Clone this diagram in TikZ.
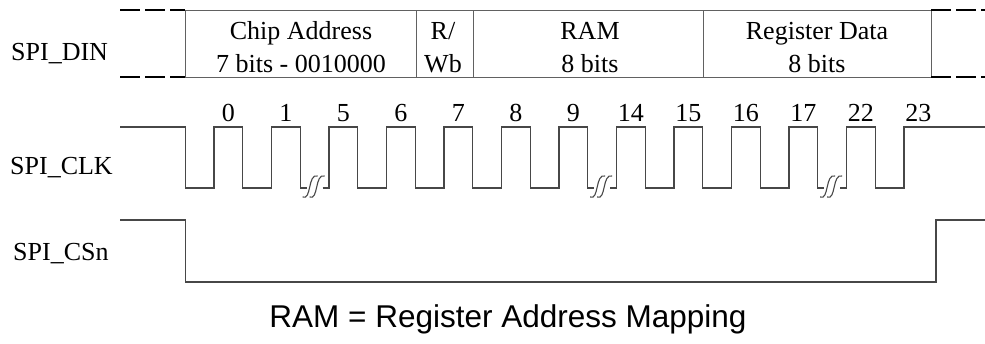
\documentclass[tikz,border=0pt]{standalone}
\usepackage{fontspec}
\setmainfont{Liberation Serif}
\newfontfamily\arialfont{Liberation Sans}
\begin{document}
\begin{tikzpicture}[x=1pt,y=-1pt,
  sig/.style={draw=black!72, line width=1.1pt},
  cell/.style={draw=black!62, line width=1pt, inner sep=0pt, outer sep=0pt},
  dashline/.style={draw=black, line width=2.8pt, dash pattern=on 20pt off 5pt},
  lbl/.style={font=\fontsize{26}{31}\selectfont, inner sep=0pt, anchor=base},
  sidelbl/.style={font=\fontsize{26}{31}\selectfont, inner sep=0pt, anchor=base west}]
\useasboundingbox (0,0) rectangle (985,343);

% signal names
\node[sidelbl] (din) at (11,60) {SPI\_DIN};
\node[sidelbl] (clk) at (10,174) {SPI\_CLK};
\node[sidelbl] (csn) at (13,260) {SPI\_CSn};

% SPI_DIN frame
\node[cell, minimum width=231pt, minimum height=67pt] (chipcell) at (300.5,43.5) {};
\node[cell, minimum width=57pt, minimum height=67pt] (rwcell) at (444.5,43.5) {};
\node[cell, minimum width=230pt, minimum height=67pt] (ramcell) at (588,43.5) {};
\node[cell, minimum width=228pt, minimum height=67pt] (regcell) at (817,43.5) {};

\node[lbl] (chipA) at (301,39) {Chip Address};
\node[lbl] (chipB) at (301,72) {7 bits - 0010000};
\node[lbl] (rwA) at (443,39) {R/};
\node[lbl] (rwB) at (443,72) {Wb};
\node[lbl] (ramA) at (590,39) {RAM};
\node[lbl] (ramB) at (590,72) {8 bits};
\node[lbl] (regA) at (817,39) {Register Data};
\node[lbl] (regB) at (817,72) {8 bits};

\coordinate (dinTL) at (120,10);
\coordinate (dinBL) at (120,77);
\coordinate (dinTR) at (985,10);
\coordinate (dinBR) at (985,77);
\draw[dashline] (dinTL) -- (chipcell.north west);
\draw[dashline] (dinBL) -- (chipcell.south west);
\draw[dashline] (regcell.north east) -- (dinTR);
\draw[dashline] (regcell.south east) -- (dinBR);

% SPI_CLK
\draw[sig] (120,127) -| (185.25,188) -| (214,127) -| (242.75,188) -| (271.5,127) -| (300.25,188) -- (306.6,188);
\draw[sig] (322.6,188) -| (329,127) -| (357.75,188) -| (386.5,127) -| (415.25,188) -| (444,127) -| (472.75,188) -| (501.5,127) -| (530.25,188) -| (559,127) -| (587.75,188) -- (594.1,188);
\draw[sig] (610.1,188) -| (616.5,127) -| (645.25,188) -| (674,127) -| (702.75,188) -| (731.5,127) -| (760.25,188) -| (789,127) -| (817.75,188) -- (824.1,188);
\draw[sig] (840.1,188) -| (846.5,127) -| (875.25,188) -| (904,127) -- (985,127);

\foreach \c in {314.6,602.1,832.1} {
  \draw[sig] ({\c-12},197) .. controls ({\c-3},201) and ({\c-7},173) .. ({\c+3},176);
  \draw[sig] ({\c-5},197) .. controls ({\c+4},201) and ({\c},173) .. ({\c+10},176);
}

\foreach \k/\t in {0/0,1/1,2/5,3/6,4/7,5/8,6/9,7/14,8/15,9/16,10/17,11/22,12/23}
  \node[lbl] (n\k) at ({214+57.5*\k+14.4},121) {\t};

% SPI_CSn
\draw[sig] (120,220) -| (185.5,282) -| (936,220) -- (985,220);

% note
\node[font=\arialfont\fontsize{31.5}{36}\selectfont, anchor=base, inner sep=0pt] (note) at (508,327) {RAM = Register Address Mapping};
\end{tikzpicture}
\end{document}
